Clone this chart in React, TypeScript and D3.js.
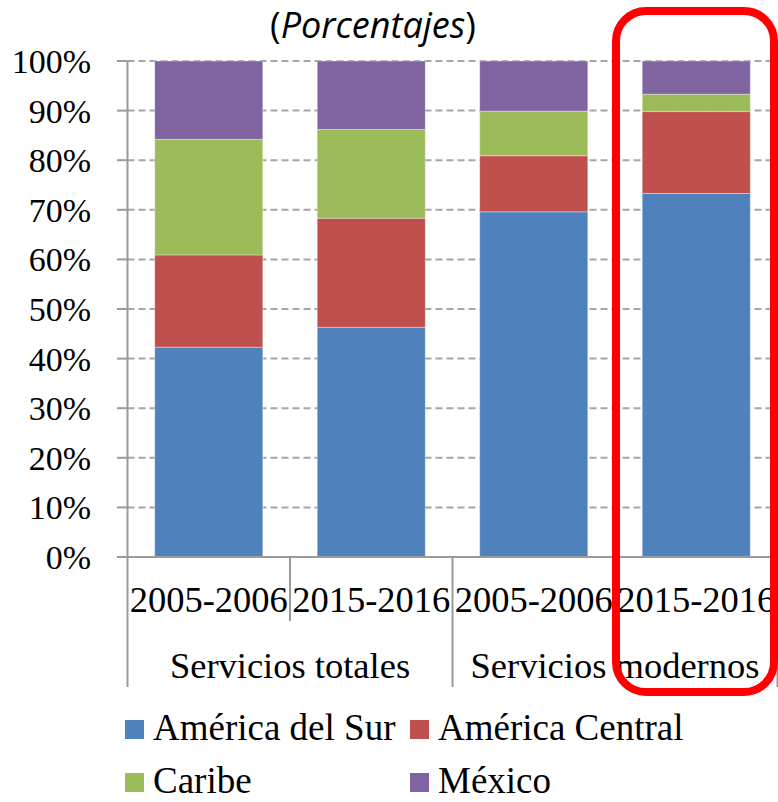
import React from 'react';
import * as d3 from 'd3';

// categories
const periods = ['2005-2006', '2015-2016', '2005-2006', '2015-2016'];
const groups = ['Servicios totales', 'Servicios modernos'];

// series values (% of total)
const americaDelSur = [42.3, 46.3, 69.6, 73.3];
const americaCentral = [18.6, 22.0, 11.3, 16.5];
const caribe = [23.3, 17.9, 9.0, 3.5];
const mexico = [15.8, 13.8, 10.1, 6.7];

const seriesNames = ['América del Sur', 'América Central', 'Caribe', 'México'];
const seriesColors = ['#4F81BD', '#C0504D', '#9BBB59', '#8064A2'];
const yTicks = [0, 10, 20, 30, 40, 50, 60, 70, 80, 90, 100];

const W = 778;
const H = 802;
const serif = '"Liberation Serif", "Times New Roman", serif';

export default function App() {
  const rows = periods.map((p, i) => ({
    idx: String(i),
    [seriesNames[0]]: americaDelSur[i],
    [seriesNames[1]]: americaCentral[i],
    [seriesNames[2]]: caribe[i],
    [seriesNames[3]]: mexico[i],
  }));

  const stacked = d3.stack<any>().keys(seriesNames)(rows);

  const x = d3.scaleBand<string>()
    .domain(periods.map((_, i) => String(i)))
    .range([127.5, 777.5])
    .paddingInner(0.335)
    .paddingOuter(0.1675);
  const y = d3.scaleLinear().domain([0, 100]).range([557, 61]);
  const color = d3.scaleOrdinal<string, string>().domain(seriesNames).range(seriesColors);

  const step = x.step();
  const bw = x.bandwidth();
  // category boundary i (0..n)
  const edge = (i: number) => (x('0') as number) - (step - bw) / 2 + i * step;
  const axisX = edge(0);
  const axisColor = '#9a9a9a';

  return (
    <svg width={W} height={H} style={{ position: 'absolute', left: 0, top: 0, background: '#fff' }}>
      {/* title */}
      <text x={373} y={38} textAnchor="middle" fontFamily='"Open Sans", sans-serif' fontSize={36} fill="#000">
        (<tspan fontStyle="italic">Porcentajes</tspan>)
      </text>

      {/* gridlines */}
      {yTicks.filter(t => t > 0).map(t => (
        <line key={t} x1={axisX} x2={W} y1={y(t)} y2={y(t)} stroke="#a6a6a6" strokeWidth={2} strokeDasharray="7,4" />
      ))}

      {/* bars */}
      {stacked.map(s => (
        <g key={s.key} fill={color(s.key)}>
          {s.map((d, i) => (
            <rect key={i} x={x(String(i))} width={bw} y={y(d[1])} height={y(d[0]) - y(d[1])}
              stroke="#ffffff" strokeOpacity={0.35} strokeWidth={1} />
          ))}
        </g>
      ))}

      {/* y axis */}
      <line x1={axisX} x2={axisX} y1={y(100)} y2={y(0)} stroke={axisColor} strokeWidth={2} />
      {yTicks.map(t => (
        <g key={t}>
          <line x1={117} x2={axisX} y1={y(t)} y2={y(t)} stroke={axisColor} strokeWidth={2} />
          <text x={91} y={y(t) + 12} textAnchor="end" fontFamily={serif} fontSize={34} fill="#000">{t}%</text>
        </g>
      ))}

      {/* x axis */}
      <line x1={117} x2={W} y1={y(0)} y2={y(0)} stroke={axisColor} strokeWidth={2} />
      {d3.range(periods.length + 1).map(i => (
        <line key={i} x1={edge(i)} x2={edge(i)} y1={y(0)} y2={i % 2 === 0 ? 687 : 621} stroke={axisColor} strokeWidth={2} />
      ))}
      {periods.map((p, i) => (
        <text key={i} x={(x(String(i)) as number) + bw / 2} y={612} textAnchor="middle" fontFamily={serif} fontSize={36.5} fill="#000">{p}</text>
      ))}
      {groups.map((g, gi) => (
        <text key={g} x={(edge(gi * 2) + edge(gi * 2 + 2)) / 2} y={678} textAnchor="middle" fontFamily={serif} fontSize={36.5} fill="#000">{g}</text>
      ))}

      {/* legend */}
      {seriesNames.map((n, i) => {
        const lx = i % 2 === 0 ? 125 : 410;
        const ly = i < 2 ? 740 : 793;
        return (
          <g key={n}>
            <rect x={lx} y={ly - 20} width={19} height={19} fill={color(n)} />
            <text x={lx + 28} y={ly} fontFamily={serif} fontSize={37} fill="#000">{n}</text>
          </g>
        );
      })}

      {/* highlight box */}
      <rect x={616} y={11} width={158} height={681} rx={30} ry={30} fill="none" stroke="#ff0000" strokeWidth={8} />
    </svg>
  );
}
